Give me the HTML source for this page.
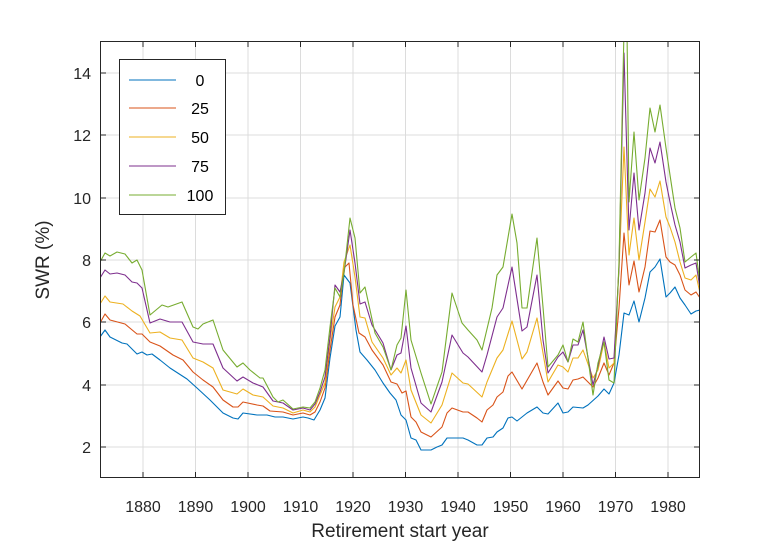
<!DOCTYPE html>
<html><head><meta charset="utf-8"><style>
html,body{margin:0;padding:0;background:#fff;}
svg{display:block;font-family:"Liberation Sans",sans-serif;}
</style></head><body>
<svg width="774" height="543" viewBox="0 0 774 543" xmlns="http://www.w3.org/2000/svg">
<rect width="774" height="543" fill="#fff"/>
<defs><clipPath id="c"><rect x="100" y="41" width="600" height="437"/></clipPath></defs>
<g stroke="#dcdcdc" stroke-width="1">
<line x1="143" y1="41" x2="143" y2="478"/><line x1="195.5" y1="41" x2="195.5" y2="478"/><line x1="248" y1="41" x2="248" y2="478"/><line x1="300.5" y1="41" x2="300.5" y2="478"/><line x1="353" y1="41" x2="353" y2="478"/><line x1="405.5" y1="41" x2="405.5" y2="478"/><line x1="458" y1="41" x2="458" y2="478"/><line x1="510.5" y1="41" x2="510.5" y2="478"/><line x1="563" y1="41" x2="563" y2="478"/><line x1="615.5" y1="41" x2="615.5" y2="478"/><line x1="668" y1="41" x2="668" y2="478"/>
<line x1="100" y1="447" x2="700" y2="447"/><line x1="100" y1="385" x2="700" y2="385"/><line x1="100" y1="322" x2="700" y2="322"/><line x1="100" y1="260" x2="700" y2="260"/><line x1="100" y1="198" x2="700" y2="198"/><line x1="100" y1="135" x2="700" y2="135"/><line x1="100" y1="73" x2="700" y2="73"/>
</g>
<g clip-path="url(#c)" fill="none" stroke-width="1.1" stroke-linejoin="round">
<polyline stroke="#0072BD" points="100,337 105,330 110,337 122,343 127,344 137,354 142,352 147,355 152,354 160,360 170,368 187,379 197,388 210,400 223,413 233,418 238,419 243,413 257,415 267,415 275,417 283,417 293,419 303,417 308,418 314,420 320,410 325,398 330,358 335,326 340,317 344,275 350,283 356,330 360,352 367,360 375,370 383,383 390,393 396,400 401,415 406,420 411,438 416,440 421,450 431,450 437,447 442,445 447,438 463,438 468,440 477,445 482,445 487,438 493,437 497,432 503,428 508,418 512,417 517,421 522,417 527,413 537,407 543,413 548,414 558,403 563,413 568,412 573,407 583,408 588,405 598,396 604,389 609,394 614,383 619,355 624,313 629,315 634,301 639,322 645,298 650,272 655,267 660,259 666,297 670,293 675,287 680,298 685,305 691,314 696,311 700,310"/>
<polyline stroke="#D95319" points="100,323 105,314 110,320 125,324 137,334 142,334 150,342 160,346 173,355 183,360 193,372 203,380 213,387 223,400 233,407 238,407 243,402 257,405 263,406 270,411 283,412 293,415 303,413 310,415 315,412 320,402 325,388 330,350 335,317 340,305 344,268 349,263 353,305 359,333 365,337 372,350 383,365 391,382 397,384 402,393 406,391 411,417 416,422 421,432 431,437 442,427 447,413 452,408 463,412 468,412 477,418 482,422 487,410 493,405 497,397 503,392 508,376 512,372 522,389 537,363 543,382 548,395 558,381 563,388 568,389 573,380 578,379 583,377 593,387 598,378 604,363 609,375 614,363 619,308 624,233 629,285 634,261 639,292 645,267 650,231 655,232 660,220 666,257 670,262 675,265 680,275 685,290 691,295 696,292 700,298"/>
<polyline stroke="#EDB120" points="100,304 105,296 110,302 123,304 132,311 140,316 150,333 160,332 170,338 182,340 193,358 203,362 213,368 223,390 237,394 243,389 253,395 263,397 273,406 283,408 293,413 303,410 310,412 315,407 320,395 325,383 330,340 335,307 340,297 344,262 350,245 355,277 360,317 365,318 372,342 383,358 391,375 397,368 401,373 406,360 411,390 421,415 431,423 442,405 452,373 463,383 468,384 482,397 487,382 497,358 503,350 512,321 522,359 527,352 537,318 543,353 548,382 558,365 563,367 568,372 573,358 578,358 583,350 593,378 598,370 604,342 609,368 614,363 619,268 624,147 629,255 634,218 639,260 645,222 650,189 655,197 660,181 666,217 670,227 675,242 680,262 685,278 691,280 696,275 700,293"/>
<polyline stroke="#7E2F8E" points="100,278 105,270 110,274 117,273 125,275 132,282 137,283 142,288 150,323 160,319 170,322 182,322 193,342 203,344 213,344 223,368 237,381 243,377 253,383 263,387 273,401 283,403 293,410 303,408 310,410 315,404 320,392 325,377 330,337 335,285 340,292 344,273 350,230 355,263 360,304 365,302 372,325 383,343 391,370 397,355 401,353 406,326 411,368 421,403 431,412 442,382 452,335 463,353 468,357 482,372 487,355 497,317 503,308 512,267 522,331 527,327 537,275 543,340 548,373 558,357 563,352 568,362 573,345 578,345 583,330 593,385 598,366 604,337 609,359 614,358 619,268 624,53 629,230 634,173 639,230 645,193 650,148 655,163 660,142 666,182 670,202 675,225 680,242 685,268 691,265 696,263 700,288"/>
<polyline stroke="#77AC30" points="100,262 105,253 110,256 117,252 125,254 132,263 137,260 142,270 150,315 162,305 168,307 182,302 193,327 198,329 203,324 213,320 223,350 237,367 243,363 250,370 260,378 263,378 273,397 278,402 283,400 293,409 303,407 310,408 315,402 320,388 325,370 330,327 335,288 340,297 344,273 350,218 355,238 360,293 365,287 375,333 383,347 391,370 397,345 401,338 406,290 411,340 421,373 431,404 442,372 452,293 462,323 468,330 477,340 482,350 492,308 497,275 503,267 512,214 517,243 522,308 527,308 537,238 543,307 548,367 558,355 563,345 568,362 573,339 578,342 583,322 593,395 598,363 604,342 609,380 614,383 619,262 624,30 627,30 629,202 634,132 639,200 645,158 650,108 655,132 660,105 666,148 670,175 675,208 680,228 685,262 691,257 696,253 700,283"/>
</g>
<rect x="100.5" y="41.5" width="599" height="436" fill="none" stroke="#262626" stroke-width="1"/>
<g stroke="#262626" stroke-width="1">
<line x1="143" y1="478" x2="143" y2="472"/><line x1="195.5" y1="478" x2="195.5" y2="472"/><line x1="248" y1="478" x2="248" y2="472"/><line x1="300.5" y1="478" x2="300.5" y2="472"/><line x1="353" y1="478" x2="353" y2="472"/><line x1="405.5" y1="478" x2="405.5" y2="472"/><line x1="458" y1="478" x2="458" y2="472"/><line x1="510.5" y1="478" x2="510.5" y2="472"/><line x1="563" y1="478" x2="563" y2="472"/><line x1="615.5" y1="478" x2="615.5" y2="472"/><line x1="668" y1="478" x2="668" y2="472"/>
<line x1="143" y1="41" x2="143" y2="47"/><line x1="195.5" y1="41" x2="195.5" y2="47"/><line x1="248" y1="41" x2="248" y2="47"/><line x1="300.5" y1="41" x2="300.5" y2="47"/><line x1="353" y1="41" x2="353" y2="47"/><line x1="405.5" y1="41" x2="405.5" y2="47"/><line x1="458" y1="41" x2="458" y2="47"/><line x1="510.5" y1="41" x2="510.5" y2="47"/><line x1="563" y1="41" x2="563" y2="47"/><line x1="615.5" y1="41" x2="615.5" y2="47"/><line x1="668" y1="41" x2="668" y2="47"/>
<line x1="100" y1="447" x2="106" y2="447"/><line x1="100" y1="385" x2="106" y2="385"/><line x1="100" y1="322" x2="106" y2="322"/><line x1="100" y1="260" x2="106" y2="260"/><line x1="100" y1="198" x2="106" y2="198"/><line x1="100" y1="135" x2="106" y2="135"/><line x1="100" y1="73" x2="106" y2="73"/>
<line x1="700" y1="447" x2="694" y2="447"/><line x1="700" y1="385" x2="694" y2="385"/><line x1="700" y1="322" x2="694" y2="322"/><line x1="700" y1="260" x2="694" y2="260"/><line x1="700" y1="198" x2="694" y2="198"/><line x1="700" y1="135" x2="694" y2="135"/><line x1="700" y1="73" x2="694" y2="73"/>
</g>
<g fill="#262626" font-size="16" text-anchor="middle">
<text x="143" y="512">1880</text><text x="195.5" y="512">1890</text><text x="248" y="512">1900</text><text x="300.5" y="512">1910</text><text x="353" y="512">1920</text><text x="405.5" y="512">1930</text><text x="458" y="512">1940</text><text x="510.5" y="512">1950</text><text x="563" y="512">1960</text><text x="615.5" y="512">1970</text><text x="668" y="512">1980</text>
</g>
<g fill="#262626" font-size="16" text-anchor="end">
<text x="91" y="453">2</text><text x="91" y="391">4</text><text x="91" y="328">6</text><text x="91" y="266">8</text><text x="91" y="204">10</text><text x="91" y="141">12</text><text x="91" y="79">14</text>
</g>
<text x="400" y="537" fill="#262626" font-size="19" text-anchor="middle">Retirement start year</text>
<text x="0" y="0" fill="#262626" font-size="19" text-anchor="middle" transform="translate(49,260) rotate(-90)">SWR (%)</text>
<rect x="119.5" y="59.5" width="106" height="155" fill="#fff" stroke="#262626" stroke-width="1"/>
<g stroke-width="1.1">
<line x1="129" y1="80" x2="176" y2="80" stroke="#0072BD"/>
<line x1="129" y1="108" x2="176" y2="108" stroke="#D95319"/>
<line x1="129" y1="137" x2="176" y2="137" stroke="#EDB120"/>
<line x1="129" y1="166" x2="176" y2="166" stroke="#7E2F8E"/>
<line x1="129" y1="195" x2="176" y2="195" stroke="#77AC30"/>
</g>
<g fill="#000" font-size="16" text-anchor="middle">
<text x="200" y="86">0</text><text x="200" y="114">25</text><text x="200" y="143">50</text><text x="200" y="172">75</text><text x="200" y="201">100</text>
</g>
</svg>
</body></html>
